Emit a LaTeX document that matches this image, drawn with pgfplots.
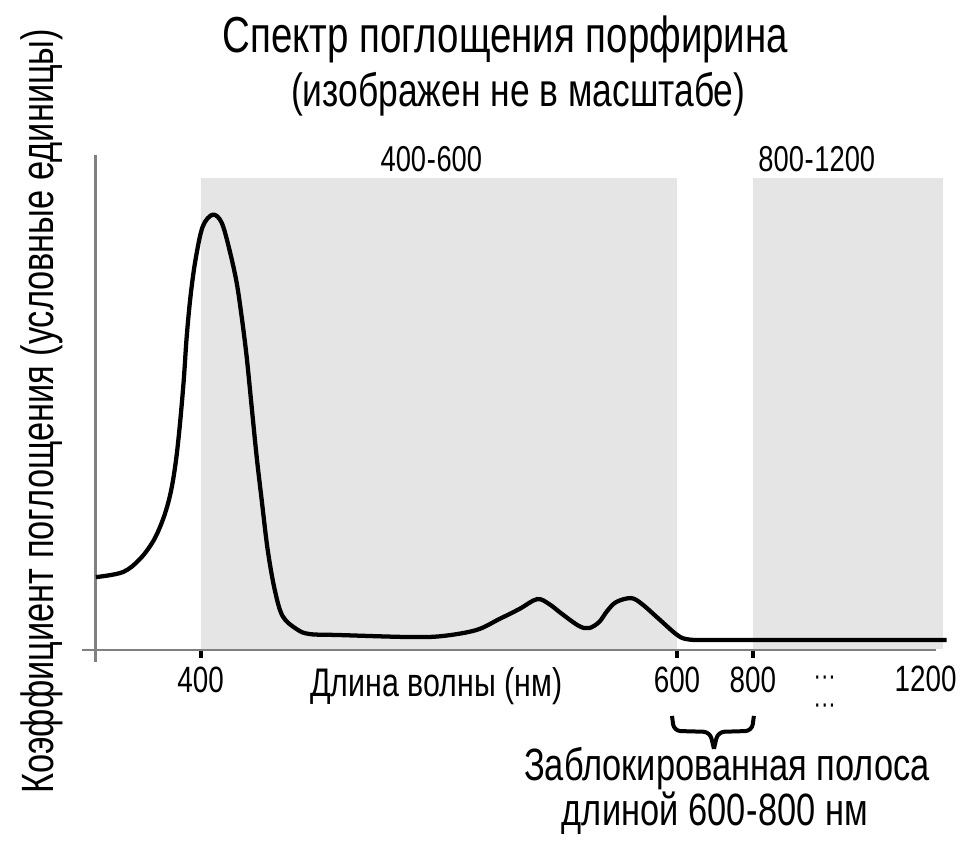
\documentclass[border=0pt]{standalone}
\usepackage{pgfplots}
\pgfplotsset{compat=1.18}
\usepackage{fontspec}
\setmainfont{Liberation Sans}[FakeStretch=0.76]
\newcommand{\fs}[1]{\fontsize{#1}{#1}\selectfont}
\begin{document}
\begin{tikzpicture}
\begin{axis}[
  x=0.75pt, y=0.75pt,
  xmin=-14, xmax=841, ymin=-12, ymax=496,
  axis lines=middle,
  axis line style={-, draw=black!50, line width=2.2pt},
  xtick={105,582,658},
  xticklabels={400,600,800},
  xtick align=outside,
  major tick length=6pt,
  tick style={black, line width=3pt},
  ytick=\empty,
  xticklabel style={font=\fs{27.5pt}, anchor=base, yshift=-26pt},
  clip=false,
]
% invisible frame fixing picture size
\path (axis cs:-96,651) rectangle (axis cs:865,-197);

% shaded wavelength bands
\addplot[fill=black!10, draw=none] coordinates {(105,1.5) (105,473) (582,473) (582,1.5)};
\addplot[fill=black!10, draw=none] coordinates {(658,1.5) (658,473) (848,473) (848,1.5)};

% absorption spectrum
\addplot[black, line width=3.2pt, smooth, tension=0.55] coordinates {
(0,73)(27,78)(44,91)(58,110)(68,133)(75,158)(80,188)(84,224)(88,270)(91,314)
(95,356)(100,392)(107,424)(117,436)(126,428)(134,400)(141,368)(146,334)(151,294)
(156,244)(161,194)(166,151)(172,101)(179,61)(187,34)(201,21)(214,16)
(244,15)(314,13)(347,14)(381,20)(404,31)(424,41)(442,51)(454,46)(467,36)(484,24)
(494,22)(504,28)(512,39)(521,48)(536,52)(547,46)(564,31)(581,16)(591,11)(611,10)
(700,10)(852,10)};

% texts
\node[anchor=base] at (axis cs:410,598) {\fs{38pt}Спектр поглощения порфирина};
\node[anchor=base] at (axis cs:423,544) {\fs{35pt}(изображен не в масштабе)};
\node[anchor=base] at (axis cs:336,479) {\fs{27pt}400\kern0.5pt-\kern0.5pt600};
\node[anchor=base] at (axis cs:722,479) {\fs{27pt}800\kern0.5pt-\kern0.5pt1200};
\node[anchor=base] at (axis cs:341,-47) {\fs{30pt}Длина волны (нм)};
\node[anchor=base] at (axis cs:831,-42) {\fs{27.5pt}1200};
\node at (axis cs:730,-31) {\fs{22pt}···};
\node at (axis cs:730,-59) {\fs{22pt}···};
\node[rotate=90] at (axis cs:-54,239) {\fs{34pt}Коэффициент поглощения (условные единицы)};
\draw[black, line width=3pt, rounded corners=5pt]
  (axis cs:577,-66) -- (axis cs:579,-81) -- (axis cs:615,-82) -- (axis cs:619,-99);
\draw[black, line width=3pt, rounded corners=5pt]
  (axis cs:659,-66) -- (axis cs:657,-81) -- (axis cs:623,-82) -- (axis cs:619,-99);
\node[anchor=base] at (axis cs:632,-131) {\fs{34pt}Заблокированная полоса};
\node[anchor=base] at (axis cs:620,-176) {\fs{34pt}длиной 600\kern0.5pt-\kern0.5pt800 нм};
\end{axis}
\end{tikzpicture}
\end{document}
